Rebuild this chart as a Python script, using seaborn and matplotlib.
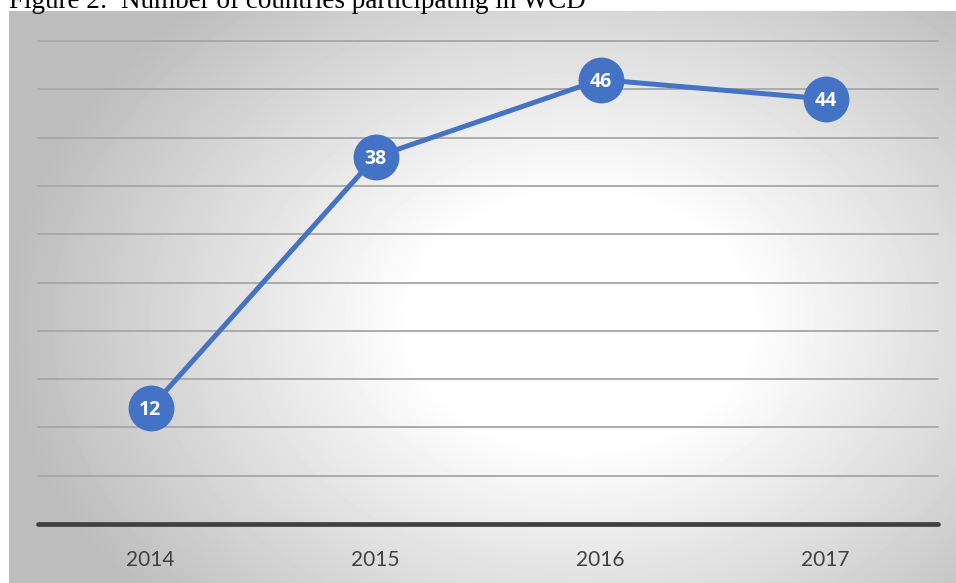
import numpy as np
import pandas as pd
import matplotlib
matplotlib.use('Agg')
import matplotlib.pyplot as plt
import seaborn as sns

# data
years = ['2014', '2015', '2016', '2017']
countries = [12, 38, 46, 44]
title = 'Figure 2:  Number of countries participating in WCD'

df = pd.DataFrame({'year': years, 'countries': countries})

sns.set_theme(style='white')
plt.rcParams['font.family'] = ['Lato', 'DejaVu Sans']

W, H = 956, 583
fig = plt.figure(figsize=(W / 100, H / 100), dpi=100)

# radial gradient background panel
bg = fig.add_axes([9 / W, 0, 1 - 9 / W, (H - 11) / H])
yy, xx = np.mgrid[0:572, 0:947]
cx, cy = 570, 310
r = np.sqrt(((xx - cx) / 560) ** 2 + ((yy - cy) / 420) ** 2)
shade = np.clip(1.0 - 0.27 * np.clip(r - 0.3, 0, None) / 0.75, 0.74, 1.0)
bg.imshow(shade, cmap='gray', vmin=0, vmax=1, aspect='auto', interpolation='bilinear')
bg.set_axis_off()

# plot area: x from 38 to 938 px, y value 0 at 524 px, 50 at 41 px
ax = fig.add_axes([38 / W, (H - 524) / H, 900 / W, (524 - 41) / H])
ax.patch.set_alpha(0)
ax.set_xlim(-0.5, 3.5)
ax.set_ylim(0, 50)

for v in range(5, 51, 5):
    ax.axhline(v, color='#a6a6a6', lw=1.3, zorder=1)
ax.axhline(0, color='#404040', lw=3.4, zorder=2)

sns.lineplot(data=df, x='year', y='countries', ax=ax, color='#4472C4',
             lw=3.6, marker='o', markersize=33, markeredgewidth=0,
             zorder=3, sort=False)

for i, v in enumerate(countries):
    ax.text(i, v - 0.2, str(v), ha='center', va='center', color='white',
            family='Open Sans', fontsize=14, fontweight='bold', zorder=4)

ax.set_xlabel('')
ax.set_ylabel('')
ax.set_yticks([])
ax.tick_params(axis='x', length=0, labelsize=15, labelcolor='#404040', pad=19)
for s in ax.spines.values():
    s.set_visible(False)
for ln in ax.lines:
    ln.set_clip_on(False)

fig.text(9 / W, 1 - 8 / H, title, family='Liberation Serif', fontsize=19.5,
         color='black', ha='left', va='baseline')

fig.savefig('out.png', dpi=100)
